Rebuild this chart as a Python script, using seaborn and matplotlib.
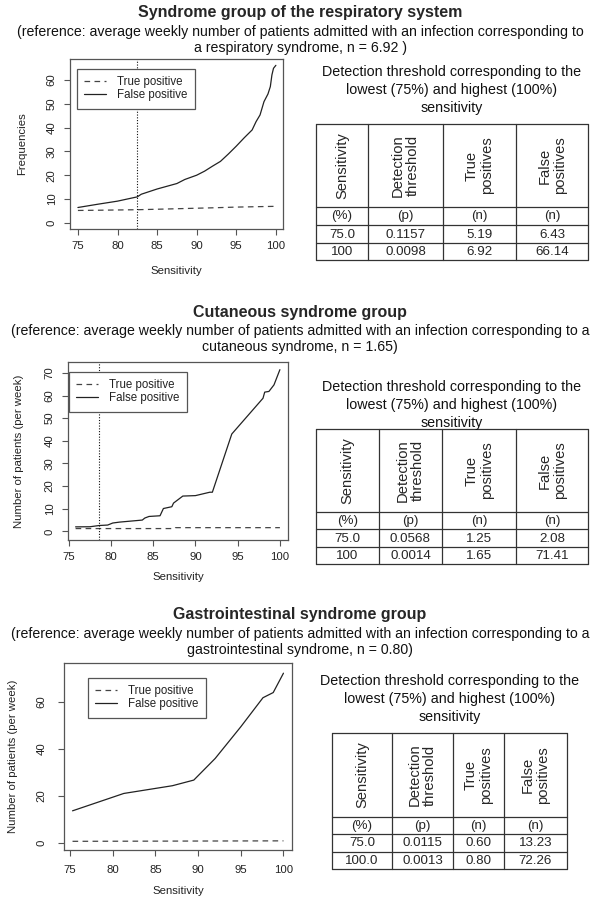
import matplotlib
matplotlib.use("Agg")
import matplotlib.pyplot as plt
import pandas as pd
import seaborn as sns

# ---------------- data ----------------
resp_title = "Syndrome group of the respiratory system"
resp_sub = ("(reference: average weekly number of patients admitted with an infection corresponding to\n"
            "a respiratory syndrome, n = 6.92 )")
resp_sens_fp = [75, 77.5, 80, 82.5, 83, 85, 87.5, 88.5, 90, 91, 92, 93, 94, 95, 96, 97,
                97.5, 98, 98.5, 99, 99.3, 99.5, 99.7, 100]
resp_fp = [6.43, 7.8, 9.1, 10.9, 12.0, 14.2, 16.5, 18.2, 20.0, 21.7, 23.8, 25.8, 28.9, 32.2,
           35.7, 39.0, 42.5, 45.3, 50.9, 54.1, 57.2, 62.1, 64.9, 66.14]
resp_sens_tp = [75, 78, 82.5, 85, 88.5, 92, 95, 98, 100]
resp_tp = [5.19, 5.3, 5.5, 5.7, 6.0, 6.3, 6.6, 6.8, 6.92]
resp_cut = 82.5
resp_yticks = [0, 10, 20, 30, 40, 50, 60]
resp_ylabel = "Frequencies"

cut_title = "Cutaneous syndrome group"
cut_sub = ("(reference: average weekly number of patients admitted with an infection corresponding to a\n"
           "cutaneous syndrome, n = 1.65)")
cut_sens_fp = [75.8, 77.5, 78, 78.6, 79.6, 80.2, 81, 83.7, 84, 84.5, 85.8, 86.2, 87.2, 87.4,
               88.5, 90, 91.7, 92, 94.3, 98, 98.2, 98.7, 99.3, 100]
cut_fp = [2.0, 2.05, 2.3, 2.6, 2.8, 3.7, 4.1, 5.0, 5.9, 6.6, 6.9, 10.1, 10.9, 12.5, 15.6, 15.8,
          17.3, 17.3, 43.0, 58.8, 61.5, 61.8, 64.7, 71.41]
cut_sens_tp = [75.8, 87.5, 87.6, 100]
cut_tp = [1.25, 1.25, 1.65, 1.65]
cut_cut = 78.6
cut_yticks = [0, 10, 20, 30, 40, 50, 60, 70]
cut_ylabel = "Number of patients (per week)"

gi_title = "Gastrointestinal syndrome group"
gi_sub = ("(reference: average weekly number of patients admitted with an infection corresponding to a\n"
          "gastrointestinal syndrome, n = 0.80)")
gi_sens_fp = [75.3, 81.3, 87, 89.5, 92, 95, 97.6, 98.8, 100]
gi_fp = [13.6, 21.0, 24.3, 26.7, 35.9, 49.4, 61.8, 64.0, 72.26]
gi_sens_tp = [75.3, 100]
gi_tp = [0.60, 0.80]
gi_yticks = [0, 20, 40, 60]
gi_ylabel = "Number of patients (per week)"

xticks = [75, 80, 85, 90, 95, 100]
legend_labels = ["True positive", "False positive"]
xlabel = "Sensitivity"

table_caption = "Detection threshold corresponding to the\nlowest (75%) and highest (100%)\nsensitivity"
table_headers = ["Sensitivity", "Detection\nthreshold", "True\npositives", "False\npositives"]
table_units = ["(%)", "(p)", "(n)", "(n)"]
resp_tab_sens = ["75.0", "100"]
resp_tab_thr = ["0.1157", "0.0098"]
resp_tab_tp = ["5.19", "6.92"]
resp_tab_fp = ["6.43", "66.14"]
cut_tab_sens = ["75.0", "100"]
cut_tab_thr = ["0.0568", "0.0014"]
cut_tab_tp = ["1.25", "1.65"]
cut_tab_fp = ["2.08", "71.41"]
gi_tab_sens = ["75.0", "100.0"]
gi_tab_thr = ["0.0115", "0.0013"]
gi_tab_tp = ["0.60", "0.80"]
gi_tab_fp = ["13.23", "72.26"]

# ---------------- style ----------------
sns.set_style("ticks")
plt.rcParams["font.family"] = ["Liberation Sans", "DejaVu Sans"]

W, H = 600, 898
fig = plt.figure(figsize=(W / 100, H / 100), dpi=100)
fig.patch.set_facecolor("white")

LINE = "#222222"
FRAME = "#555555"


def rect(l, t, r, b):
    return [l / W, 1 - b / H, (r - l) / W, (b - t) / H]


def panel(box, xlim, ylim, yticks, ylabel, sens_tp, tp, sens_fp, fp, cut, legbox,
          ylab_x, ytick_pad, xlab_y, xtick_pad):
    l, t, r, b = box
    ax = fig.add_axes(rect(l, t, r, b))
    tp_df = pd.DataFrame({"Sensitivity": sens_tp, "value": tp})
    fp_df = pd.DataFrame({"Sensitivity": sens_fp, "value": fp})
    sns.lineplot(data=tp_df, x="Sensitivity", y="value", ax=ax, color="#444444",
                 linewidth=0.9, linestyle=(0, (4.5, 3.5)), label=legend_labels[0])
    sns.lineplot(data=fp_df, x="Sensitivity", y="value", ax=ax, color=LINE,
                 linewidth=0.9, label=legend_labels[1])
    if cut is not None:
        ax.axvline(cut, color="#111111", linewidth=0.8, linestyle=(0, (1, 1.5)))
    ax.set_xlim(*xlim)
    ax.set_ylim(*ylim)
    ax.set_xticks(xticks)
    ax.set_yticks(yticks)
    for s in ax.spines.values():
        s.set_visible(True)
        s.set_color(FRAME)
        s.set_linewidth(0.9)
    ax.tick_params(axis="both", direction="out", length=4.5, width=0.8, color=FRAME,
                   labelsize=8.2, labelcolor="#222222")
    ax.tick_params(axis="y", labelrotation=90, pad=ytick_pad)
    ax.tick_params(axis="x", pad=xtick_pad)
    for lab in ax.get_yticklabels():
        lab.set_va("center")
    ax.set_xlabel(xlabel, fontsize=8.2, color="#222222")
    ax.set_ylabel(ylabel, fontsize=8.2, color="#222222")
    ax.xaxis.label.set_va("center")
    ax.yaxis.label.set_va("center")
    ax.xaxis.set_label_coords(0.5, (b - xlab_y) / (b - t))
    ax.yaxis.set_label_coords((ylab_x - l) / (r - l), 0.5)
    lx, ly = legbox
    leg = ax.legend(loc="upper left", bbox_to_anchor=(lx / W, 1 - ly / H),
                    bbox_transform=fig.transFigure, borderaxespad=0, fontsize=8.3,
                    frameon=True, fancybox=False, framealpha=1, edgecolor=FRAME,
                    handlelength=1.9, handletextpad=0.9, borderpad=0.65, labelspacing=0.05)
    leg.get_frame().set_linewidth(0.9)
    for txt in leg.get_texts():
        txt.set_color("#222222")
    return ax


panel((70, 59, 283, 229), (74.0, 100.9), (-2.6, 68.8), resp_yticks, resp_ylabel,
      resp_sens_tp, resp_tp, resp_sens_fp, resp_fp, resp_cut, (77, 69),
      22, 5, 271, 4)
panel((68, 362, 288, 540), (74.9, 100.96), (-3.8, 74.8), cut_yticks, cut_ylabel,
      cut_sens_tp, cut_tp, cut_sens_fp, cut_fp, cut_cut, (69, 372),
      19, 5, 577, 4)
panel((64, 663, 292, 850), (74.3, 101.0), (-3.1, 76.6), gi_yticks, gi_ylabel,
      gi_sens_tp, gi_tp, gi_sens_fp, gi_fp, None, (88, 678),
      13, 8, 891, 6)

# ---------------- overlay for titles and tables ----------------
ov = fig.add_axes([0, 0, 1, 1], zorder=-1)
ov.set_xlim(0, W)
ov.set_ylim(H, 0)
ov.axis("off")


def titles(title, sub, ty, sy):
    ov.text(300, ty, title, ha="center", va="center", fontsize=11.5, fontweight="bold")
    ov.text(300, sy, sub, ha="center", va="center", fontsize=10.2, linespacing=1.25,
            color="#111111")


titles(resp_title, resp_sub, 12, 40)
titles(cut_title, cut_sub, 312, 339)
titles(gi_title, gi_sub, 614, 642)


def table(xe, ye, cap_y, cols):
    xc = (xe[0] + xe[-1]) / 2
    ov.text(xc, cap_y, table_caption, ha="center", va="center", fontsize=10.3,
            linespacing=1.35, color="#111111")
    for x in xe:
        ov.plot([x, x], [ye[0], ye[-1]], color="#333333", lw=0.9)
    for y in ye:
        ov.plot([xe[0], xe[-1]], [y, y], color="#333333", lw=0.9)
    for j in range(4):
        cx = (xe[j] + xe[j + 1]) / 2
        ov.text(cx, (ye[0] + ye[1]) / 2, table_headers[j], rotation=90, ha="center",
                va="center", multialignment="center", fontsize=10.6, linespacing=1.1)
        ov.text(cx, (ye[1] + ye[2]) / 2 + 0.5, table_units[j], ha="center", va="center",
                fontsize=9.6)
        for i in range(2):
            ov.text(cx, (ye[2 + i] + ye[3 + i]) / 2 + 0.5, cols[j][i], ha="center",
                    va="center", fontsize=9.6)


table([316, 368, 443, 516, 588], [124, 207, 225, 243, 260], 90,
      [resp_tab_sens, resp_tab_thr, resp_tab_tp, resp_tab_fp])
table([316, 379, 442, 516, 588], [429, 512, 529, 547, 564], 405,
      [cut_tab_sens, cut_tab_thr, cut_tab_tp, cut_tab_fp])
table([332, 392, 453, 504, 567], [733, 817, 834, 852, 869], 699,
      [gi_tab_sens, gi_tab_thr, gi_tab_tp, gi_tab_fp])

fig.savefig("out.png", dpi=100)
